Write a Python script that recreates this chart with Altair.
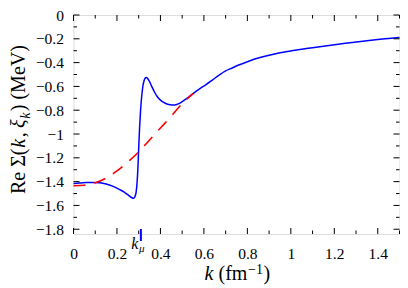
import altair as alt
import pandas as pd

# ---- data ----
blue_k = [0.0, 0.03, 0.06, 0.09, 0.12, 0.15, 0.18, 0.21, 0.235, 0.255, 0.268, 0.276,
          0.283, 0.288, 0.292, 0.296, 0.300, 0.304, 0.308, 0.312, 0.316, 0.320, 0.325,
          0.330, 0.336, 0.342, 0.350, 0.360, 0.372, 0.385, 0.40, 0.415, 0.43, 0.445,
          0.46, 0.475, 0.49, 0.51, 0.53, 0.55, 0.58, 0.61, 0.64, 0.67, 0.70, 0.73,
          0.76, 0.80, 0.85, 0.90, 0.95, 1.0, 1.05, 1.1, 1.15, 1.2, 1.25, 1.3, 1.35,
          1.4, 1.45, 1.5]
blue_v = [-1.415, -1.412, -1.408, -1.407, -1.41, -1.42, -1.438, -1.465, -1.49, -1.517,
          -1.535, -1.54, -1.525, -1.49, -1.42, -1.30, -1.12, -0.95, -0.82, -0.72,
          -0.645, -0.59, -0.55, -0.53, -0.525, -0.535, -0.56, -0.60, -0.645, -0.685,
          -0.715, -0.735, -0.748, -0.755, -0.757, -0.752, -0.74, -0.715, -0.69, -0.66,
          -0.62, -0.585, -0.545, -0.505, -0.47, -0.445, -0.42, -0.393, -0.362, -0.338,
          -0.318, -0.302, -0.288, -0.275, -0.262, -0.25, -0.238, -0.227, -0.216,
          -0.206, -0.197, -0.188]

red_k = [0.0, 0.05, 0.1, 0.15, 0.2, 0.25, 0.3, 0.35, 0.4, 0.45, 0.5, 0.55]
red_v = [-1.435, -1.43, -1.41, -1.37, -1.31, -1.235, -1.15, -1.05, -0.95, -0.85,
         -0.745, -0.66]

k_mu = [0.31]

x_major = [0, 0.2, 0.4, 0.6, 0.8, 1.0, 1.2, 1.4]
x_minor = [0.1, 0.3, 0.5, 0.7, 0.9, 1.1, 1.3, 1.5]
y_major = [0, -0.2, -0.4, -0.6, -0.8, -1.0, -1.2, -1.4, -1.6, -1.8]
y_minor = [-0.1, -0.3, -0.5, -0.7, -0.9, -1.1, -1.3, -1.5, -1.7]

# ---- layout / style ----
W, H = 326, 219
FONT = "Liberation Serif"
BLUE = "#0000ff"
RED = "#ff0000"
MAJ, MIN = 6, 3.5
TS = 20  # title font size

xs = alt.Scale(domain=[0, 1.5], nice=False, zero=False)
ys = alt.Scale(domain=[-1.84, 0], nice=False, zero=False)

x_axis = alt.Axis(values=x_major, format="~g", ticks=False, tickSize=0, domain=False,
                  grid=False, labelFont=FONT, labelFontSize=15.5, labelColor="black",
                  labelPadding=12, labelFlush=False, labelOverlap=False, title=None)
y_axis = alt.Axis(values=y_major, format="~g", ticks=False, tickSize=0, domain=False,
                  grid=False, labelFont=FONT, labelFontSize=15.5, labelColor="black",
                  labelPadding=10, labelOverlap=False, title=None)


def X():
    return alt.X("k:Q", scale=xs, axis=x_axis)


def Y():
    return alt.Y("v:Q", scale=ys, axis=y_axis)


blue_line = alt.Chart(pd.DataFrame({"k": blue_k, "v": blue_v})).mark_line(
    color=BLUE, strokeWidth=1.5, interpolate="monotone").encode(x=X(), y=Y())

red_line = alt.Chart(pd.DataFrame({"k": red_k, "v": red_v})).mark_line(
    color=RED, strokeWidth=1.6, strokeDash=[12, 9], interpolate="monotone").encode(
    x=X(), y=Y())


def xticks(vals, y0, y1):
    return alt.Chart(pd.DataFrame({"k": vals})).mark_rule(
        color="black", strokeWidth=1).encode(x=X(), y=alt.value(y0), y2=alt.value(y1))


def yticks(vals, x0, x1):
    return alt.Chart(pd.DataFrame({"v": vals})).mark_rule(
        color="black", strokeWidth=1).encode(y=Y(), x=alt.value(x0), x2=alt.value(x1))


ticks = [
    xticks(x_major, H, H - MAJ), xticks(x_minor, H, H - MIN),
    xticks(x_major, 0, MAJ), xticks(x_minor, 0, MIN),
    yticks(y_major, 0, MAJ), yticks(y_minor, 0, MIN),
    yticks(y_major, W, W - MAJ), yticks(y_minor, W, W - MIN),
]

kmu_df = pd.DataFrame({"k": k_mu})
kmu_mark = alt.Chart(kmu_df).mark_rule(color=BLUE, strokeWidth=2).encode(
    x=X(), y=alt.value(H - 5), y2=alt.value(H + 7))
kmu_k = alt.Chart(kmu_df).mark_text(text="k", font=FONT, fontSize=16, fontStyle="italic",
                                     align="center", baseline="alphabetic", dx=-6).encode(
    x=X(), y=alt.value(H + 14.5))
kmu_mu = alt.Chart(kmu_df).mark_text(text="μ", font=FONT, fontSize=11, fontStyle="italic",
                                      align="center", baseline="alphabetic", dx=1).encode(
    x=X(), y=alt.value(H + 18))


def txt(t, x, y, size=TS, italic=False, angle=0):
    kw = dict(text=t, font=FONT, fontSize=size, align="left", baseline="alphabetic",
              color="black")
    if italic:
        kw["fontStyle"] = "italic"
    if angle:
        kw["angle"] = angle
    return alt.Chart(pd.DataFrame({"t": [t]})).mark_text(**kw).encode(
        x=alt.value(x), y=alt.value(y))


# x-axis title: k (fm^-1)
XT = 131
XB = H + 46
x_title = [
    txt("k", XT, XB, italic=True),
    txt("(fm", XT + 14, XB),
    txt("−1", XT + 43.5, XB - 6.5, size=14),
    txt(")", XT + 59, XB),
]

# y-axis title: Re Σ(k, ξ_k) (MeV), rotated
YX = -48.5
Y0 = 179
y_title = [
    txt("Re Σ(", YX, Y0, angle=270),
    txt("k", YX, Y0 - 46.2, italic=True, angle=270),
    txt(",", YX, Y0 - 56.7, angle=270),
    txt("ξ", YX, Y0 - 66, italic=True, angle=270),
    txt("k", YX + 4.5, Y0 - 75.3, size=14, italic=True, angle=270),
    txt(") (MeV)", YX, Y0 - 82.8, angle=270),
]

chart = alt.layer(blue_line, red_line, *ticks, kmu_mark, kmu_k, kmu_mu,
                  *x_title, *y_title).properties(
    width=W, height=H,
    autosize=alt.AutoSizeParams(type="none"),
    padding={"left": 65.5, "top": 7, "right": 0.5, "bottom": 53},
).configure_view(stroke="#222222", strokeWidth=1).configure(background="white")

chart.save("out.html", embed_options={"renderer": "svg", "actions": False})
